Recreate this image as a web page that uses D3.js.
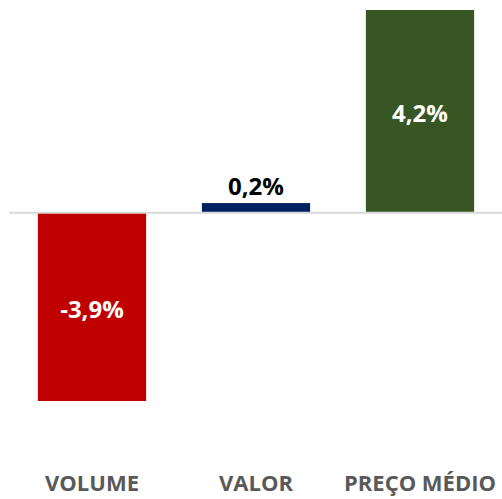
<!DOCTYPE html>
<html><head><meta charset="utf-8">
<script src="https://cdn.jsdelivr.net/npm/d3@7"></script>
<style>html,body{margin:0;padding:0;background:#fff;}svg{display:block;}</style>
</head><body>
<svg id="c" width="502" height="499"></svg>
<script>
const categories = ["VOLUME", "VALOR", "PREÇO MÉDIO"];
const values = [-3.9, 0.2, 4.2];
const colors = ["#C00000", "#002060", "#375623"];

const W = 502, H = 499;
const svg = d3.select("#c");
const x = d3.scaleBand().domain(categories).range([10, 502]).paddingInner(0.34).paddingOuter(0.17);
const y = d3.scaleLinear().domain([-3.9, 4.2]).range([401, 10]);
const fmt = v => d3.format(".1f")(v).replace(".", ",").replace("−", "-") + "%";

svg.selectAll("rect.bar").data(values).join("rect")
  .attr("class", "bar")
  .attr("x", (d, i) => x(categories[i]))
  .attr("width", x.bandwidth())
  .attr("y", d => y(Math.max(0, d)))
  .attr("height", d => Math.abs(y(d) - y(0)))
  .attr("fill", (d, i) => colors[i]);

svg.append("line")
  .attr("x1", 9).attr("x2", 502)
  .attr("y1", y(0)).attr("y2", y(0))
  .attr("stroke", "#d9d9d9").attr("stroke-width", 2);

svg.selectAll("text.val").data(values).join("text")
  .attr("class", "val")
  .attr("x", (d, i) => x(categories[i]) + x.bandwidth() / 2)
  .attr("y", d => Math.abs(y(d) - y(0)) > 40 ? (y(d) + y(0)) / 2 + 2 : y(d) - 8)
  .attr("dy", d => Math.abs(y(d) - y(0)) > 40 ? "0.36em" : "0")
  .attr("text-anchor", "middle")
  .attr("font-family", "'Open Sans', sans-serif")
  .attr("font-weight", "bold")
  .attr("font-size", 24)
  .attr("fill", d => Math.abs(y(d) - y(0)) > 40 ? "#ffffff" : "#000000")
  .text(fmt);

const labels = svg.selectAll("text.cat").data(categories).join("text")
  .attr("class", "cat")
  .attr("x", d => x(d) + x.bandwidth() / 2)
  .attr("y", 491)
  .attr("text-anchor", "middle")
  .attr("font-family", "'Open Sans', sans-serif")
  .attr("font-weight", "bold")
  .attr("font-size", 22)
  .attr("fill", "#595959")
  .text(d => d);
labels.each(function() {
  const b = this.getBBox();
  if (b.x + b.width > W - 4) {
    d3.select(this).attr("x", +d3.select(this).attr("x") - (b.x + b.width - (W - 4)));
  }
});
</script>
</body></html>
